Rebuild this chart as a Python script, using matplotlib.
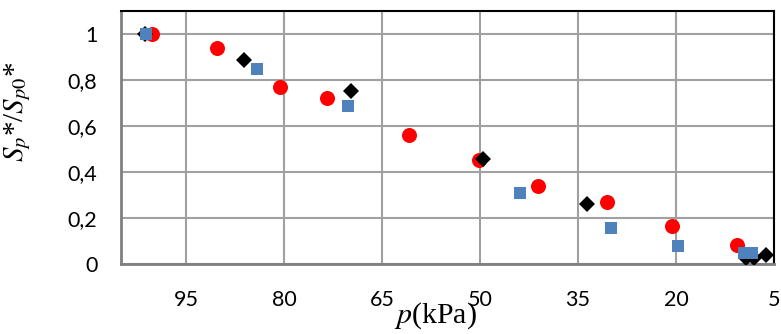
import matplotlib
matplotlib.use("Agg")
import matplotlib.pyplot as plt
from matplotlib.ticker import FuncFormatter

# values (x axis is pressure in kPa, reversed)
p_red = [100.2, 90.3, 80.7, 73.4, 60.9, 50.1, 41.1, 30.5, 20.6, 10.6]
s_red = [1.0, 0.938, 0.769, 0.721, 0.563, 0.454, 0.341, 0.269, 0.165, 0.084]

p_blue = [101.2, 84.1, 70.3, 43.9, 30.0, 19.7, 9.6, 8.3]
s_blue = [1.0, 0.848, 0.688, 0.309, 0.155, 0.078, 0.046, 0.046]

p_black = [101.4, 86.1, 69.8, 49.6, 33.6, 9.3, 8.0, 6.2]
s_black = [1.0, 0.889, 0.751, 0.456, 0.26, 0.026, 0.026, 0.039]

x_ticks = [95, 80, 65, 50, 35, 20, 5]
y_ticks = [0, 0.2, 0.4, 0.6, 0.8, 1.0]

plt.rcParams['mathtext.fontset'] = 'stix'

fig = plt.figure(figsize=(7.81, 3.34), dpi=100)
ax = fig.add_axes([121 / 781, 1 - 264 / 334, (774 - 121) / 781, (264 - 11) / 334])

ax.plot(p_red, s_red, 'o', color='#FF0000', markersize=10.8, markeredgewidth=0, zorder=3)
ax.plot(p_black, s_black, 'D', color='black', markersize=8.5, markeredgewidth=0, zorder=4)
ax.plot(p_blue, s_blue, 's', color='#4F81BD', markersize=8.5, markeredgewidth=0, zorder=5)

ax.set_xlim(105, 5)
ax.set_ylim(0, 1.1)
ax.set_xticks(x_ticks)
ax.set_yticks(y_ticks)
ax.yaxis.set_major_formatter(FuncFormatter(lambda v, pos: ('%g' % v).replace('.', ',')))

ax.grid(True, color='#A0A0A0', linewidth=1.5, zorder=0)
ax.set_axisbelow(True)

for side in ['left', 'bottom']:
    ax.spines[side].set_color('#808080')
    ax.spines[side].set_linewidth(2)
for side in ['top', 'right']:
    ax.spines[side].set_color('black')
    ax.spines[side].set_linewidth(1.5)

ax.tick_params(length=0, labelsize=15.5)
ax.tick_params(axis='x', pad=19)
ax.tick_params(axis='y', pad=17)
for lbl in ax.get_xticklabels() + ax.get_yticklabels():
    lbl.set_fontfamily('Lato')

ax.set_xlabel(r'$p$(kPa)', fontsize=21.5, family='Liberation Serif')
ax.xaxis.set_label_coords(0.481, -0.145)
ax.set_ylabel(r'$S_p$*/$S_{p0}$*', fontsize=21, family='Liberation Serif')
ax.yaxis.set_label_coords(-0.135, 0.6)

fig.savefig('out.png', dpi=100)
